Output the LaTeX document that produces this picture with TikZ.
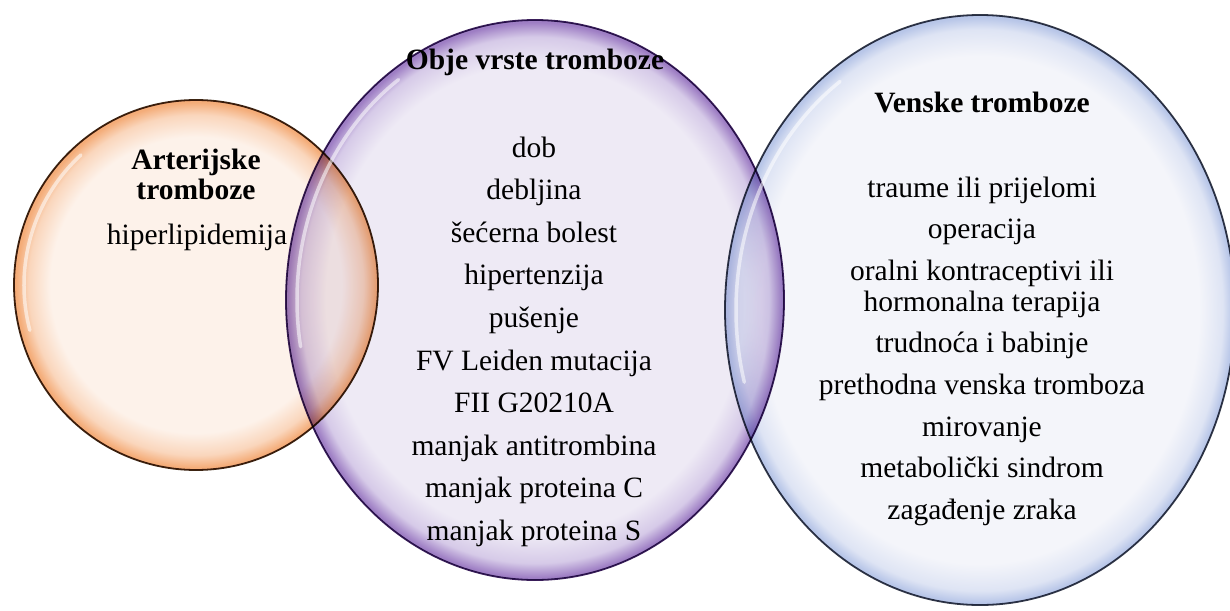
\documentclass[tikz,border=0pt]{standalone}
\usepackage{fontspec}
\setmainfont{Liberation Serif}
\usetikzlibrary{shapes.geometric}
\definecolor{orIn}{RGB}{253,242,234}
\definecolor{orMid}{RGB}{250,214,188}
\definecolor{orRim}{RGB}{244,172,120}
\definecolor{orLine}{RGB}{60,36,18}
\definecolor{puIn}{RGB}{238,234,245}
\definecolor{puMid}{RGB}{214,202,232}
\definecolor{puRim}{RGB}{158,126,196}
\definecolor{puLine}{RGB}{58,30,90}
\definecolor{blIn}{RGB}{244,245,250}
\definecolor{blMid}{RGB}{222,228,244}
\definecolor{blRim}{RGB}{184,198,232}
\definecolor{blLine}{RGB}{50,56,72}
\pgfdeclareradialshading{orShade}{\pgfpoint{0bp}{0bp}}{color(0bp)=(orIn); color(20bp)=(orIn); color(23bp)=(orMid); color(24.7bp)=(orRim); color(25bp)=(orRim); color(50bp)=(orRim)}
\pgfdeclareradialshading{puShade}{\pgfpoint{0bp}{0bp}}{color(0bp)=(puIn); color(21bp)=(puIn); color(23.5bp)=(puMid); color(24.8bp)=(puRim); color(25bp)=(puRim); color(50bp)=(puRim)}
\pgfdeclareradialshading{blShade}{\pgfpoint{0bp}{0bp}}{color(0bp)=(blIn); color(21.5bp)=(blIn); color(23.8bp)=(blMid); color(24.8bp)=(blRim); color(25bp)=(blRim); color(50bp)=(blRim)}
\tikzset{
  bubble/.style={ellipse, inner sep=0pt, outer sep=0pt, line width=1.8pt},
  hl/.style={white, line cap=round, opacity=0.55},
  lbl/.style={font=\fontsize{29.5}{31}\selectfont, anchor=base, inner sep=0pt, text=black},
  hd/.style={lbl, font=\bfseries\fontsize{29.5}{31}\selectfont}
}
\begin{document}
\begin{tikzpicture}[x=1pt, y=-1pt]
\useasboundingbox (0,0) rectangle (1230,610);
% bubbles
\begin{scope}[blend mode=multiply]
\node[bubble, minimum width=364, minimum height=370, shading=orShade, draw=orLine] (art) at (196,285) {};
\end{scope}
\draw[hl, line width=3.5] ([shift={(165:172 and 175)}]art.center) arc[start angle=165, end angle=228, x radius=172, y radius=175];
\begin{scope}[blend mode=multiply]
\node[bubble, minimum width=498, minimum height=560, shading=puShade, draw=puLine] (both) at (535,300) {};
\end{scope}
\draw[hl, line width=3.5] ([shift={(170:238 and 269)}]both.center) arc[start angle=170, end angle=235, x radius=238, y radius=269];
\begin{scope}[blend mode=multiply]
\node[bubble, minimum width=510, minimum height=590, shading=blShade, draw=blLine] (ven) at (980,310) {};
\end{scope}
\draw[hl, line width=3.5] ([shift={(165:244 and 279)}]ven.center) arc[start angle=165, end angle=235, x radius=244, y radius=279];
% arterial
\node[hd] (artH1) at (196,169) {Arterijske};
\node[hd] (artH2) at (196,199) {tromboze};
\node[lbl] (art1) at (197,244) {hiperlipidemija};
% both
\node[hd] (bothH) at (535,70) {Obje vrste tromboze};
\foreach \t [count=\i] in {dob, debljina, šećerna bolest, hipertenzija, pušenje, FV Leiden mutacija, FII G20210A, manjak antitrombina, manjak proteina C, manjak proteina S}
  \node[lbl] (both\i) at (534,{157+42.6*(\i-1)}) {\t};
% venous
\node[hd] (venH) at (982,112) {Venske tromboze};
\node[lbl] (ven1) at (982,197) {traume ili prijelomi};
\node[lbl] (ven2) at (982,238.6) {operacija};
\node[lbl] (ven3a) at (982,280.2) {oralni kontraceptivi ili};
\node[lbl] (ven3b) at (982,311.2) {hormonalna terapija};
\node[lbl] (ven4) at (982,352.8) {trudnoća i babinje};
\node[lbl] (ven5) at (982,394.4) {prethodna venska tromboza};
\node[lbl] (ven6) at (982,436) {mirovanje};
\node[lbl] (ven7) at (982,477.6) {metabolički sindrom};
\node[lbl] (ven8) at (982,519.2) {zagađenje zraka};
\end{tikzpicture}
\end{document}
